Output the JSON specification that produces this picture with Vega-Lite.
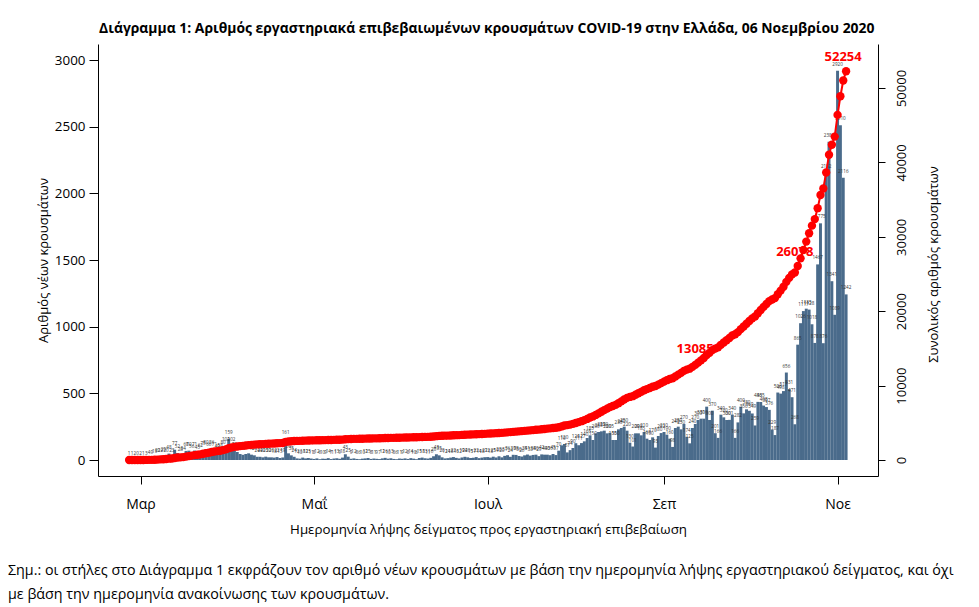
{
  "$schema": "https://vega.github.io/schema/vega-lite/v6.json",
  "background": "white",
  "padding": {"left": 8, "top": 22, "right": 10, "bottom": 4},
  "config": {
    "view": {"stroke": null},
    "font": "Open Sans",
    "axis": {"grid": false, "domainColor": "black", "tickColor": "black", "labelColor": "black", "titleColor": "black", "titleFontWeight": "normal", "labelFont": "Open Sans", "titleFont": "Open Sans"}
  },
  "title": {"text": "Διάγραμμα 1: Αριθμός εργαστηριακά επιβεβαιωμένων κρουσμάτων COVID-19 στην Ελλάδα, 06 Νοεμβρίου 2020", "fontSize": 13.9, "fontWeight": "bold", "color": "black", "anchor": "middle", "offset": 8, "dx": 6},
  "vconcat": [
    {
      "width": 780,
      "height": 432,
      "title": {"text": ["Σημ.: οι στήλες στο Διάγραμμα 1 εκφράζουν τον αριθμό νέων κρουσμάτων με βάση την ημερομηνία λήψης εργαστηριακού δείγματος, και όχι", "με βάση την ημερομηνία ανακοίνωσης των κρουσμάτων."], "orient": "bottom", "anchor": "start", "frame": "group", "align": "left", "dx": -90, "offset": 29, "fontSize": 14.3, "fontWeight": "normal", "lineHeight": 24, "color": "black"},
      "data": {"values": [
        {"d":"2020-02-26","n":1,"c":1},{"d":"2020-02-27","n":1,"c":2},{"d":"2020-02-28","n":2,"c":4},{"d":"2020-02-29","n":0,"c":4},
        {"d":"2020-03-01","n":2,"c":6},{"d":"2020-03-02","n":1,"c":7},{"d":"2020-03-03","n":3,"c":10},{"d":"2020-03-04","n":4,"c":14},{"d":"2020-03-05","n":9,"c":23},{"d":"2020-03-06","n":15,"c":38},{"d":"2020-03-07","n":20,"c":58},{"d":"2020-03-08","n":22,"c":80},{"d":"2020-03-09","n":29,"c":109},{"d":"2020-03-10","n":20,"c":129},{"d":"2020-03-11","n":48,"c":177},{"d":"2020-03-12","n":23,"c":200},{"d":"2020-03-13","n":77,"c":277},{"d":"2020-03-14","n":52,"c":329},{"d":"2020-03-15","n":28,"c":357},{"d":"2020-03-16","n":34,"c":391},{"d":"2020-03-17","n":68,"c":459},{"d":"2020-03-18","n":70,"c":529},{"d":"2020-03-19","n":56,"c":585},{"d":"2020-03-20","n":71,"c":656},{"d":"2020-03-21","n":45,"c":701},{"d":"2020-03-22","n":62,"c":763},{"d":"2020-03-23","n":75,"c":838},{"d":"2020-03-24","n":80,"c":918},{"d":"2020-03-25","n":66,"c":984},{"d":"2020-03-26","n":86,"c":1070},{"d":"2020-03-27","n":71,"c":1141},{"d":"2020-03-28","n":49,"c":1190},{"d":"2020-03-29","n":58,"c":1248},{"d":"2020-03-30","n":80,"c":1328},{"d":"2020-03-31","n":102,"c":1430},
        {"d":"2020-04-01","n":159,"c":1589},{"d":"2020-04-02","n":102,"c":1691},{"d":"2020-04-03","n":70,"c":1761},{"d":"2020-04-04","n":60,"c":1821},{"d":"2020-04-05","n":45,"c":1866},{"d":"2020-04-06","n":39,"c":1905},{"d":"2020-04-07","n":45,"c":1950},{"d":"2020-04-08","n":50,"c":2000},{"d":"2020-04-09","n":40,"c":2040},{"d":"2020-04-10","n":35,"c":2075},{"d":"2020-04-11","n":24,"c":2099},{"d":"2020-04-12","n":24,"c":2123},{"d":"2020-04-13","n":20,"c":2143},{"d":"2020-04-14","n":25,"c":2168},{"d":"2020-04-15","n":20,"c":2188},{"d":"2020-04-16","n":20,"c":2208},{"d":"2020-04-17","n":18,"c":2226},{"d":"2020-04-18","n":22,"c":2248},{"d":"2020-04-19","n":15,"c":2263},{"d":"2020-04-20","n":19,"c":2282},{"d":"2020-04-21","n":161,"c":2443},{"d":"2020-04-22","n":50,"c":2493},{"d":"2020-04-23","n":35,"c":2528},{"d":"2020-04-24","n":24,"c":2552},{"d":"2020-04-25","n":12,"c":2564},{"d":"2020-04-26","n":10,"c":2574},{"d":"2020-04-27","n":18,"c":2592},{"d":"2020-04-28","n":12,"c":2604},{"d":"2020-04-29","n":15,"c":2619},{"d":"2020-04-30","n":11,"c":2630},
        {"d":"2020-05-01","n":8,"c":2638},{"d":"2020-05-02","n":12,"c":2650},{"d":"2020-05-03","n":6,"c":2656},{"d":"2020-05-04","n":10,"c":2666},{"d":"2020-05-05","n":9,"c":2675},{"d":"2020-05-06","n":14,"c":2689},{"d":"2020-05-07","n":7,"c":2696},{"d":"2020-05-08","n":11,"c":2707},{"d":"2020-05-09","n":13,"c":2720},{"d":"2020-05-10","n":9,"c":2729},{"d":"2020-05-11","n":18,"c":2747},{"d":"2020-05-12","n":43,"c":2790},{"d":"2020-05-13","n":25,"c":2815},{"d":"2020-05-14","n":9,"c":2824},{"d":"2020-05-15","n":12,"c":2836},{"d":"2020-05-16","n":8,"c":2844},{"d":"2020-05-17","n":6,"c":2850},{"d":"2020-05-18","n":10,"c":2860},{"d":"2020-05-19","n":12,"c":2872},{"d":"2020-05-20","n":15,"c":2887},{"d":"2020-05-21","n":8,"c":2895},{"d":"2020-05-22","n":11,"c":2906},{"d":"2020-05-23","n":9,"c":2915},{"d":"2020-05-24","n":7,"c":2922},{"d":"2020-05-25","n":12,"c":2934},{"d":"2020-05-26","n":16,"c":2950},{"d":"2020-05-27","n":10,"c":2960},{"d":"2020-05-28","n":13,"c":2973},{"d":"2020-05-29","n":8,"c":2981},{"d":"2020-05-30","n":6,"c":2987},{"d":"2020-05-31","n":11,"c":2998},
        {"d":"2020-06-01","n":9,"c":3007},{"d":"2020-06-02","n":12,"c":3019},{"d":"2020-06-03","n":8,"c":3027},{"d":"2020-06-04","n":14,"c":3041},{"d":"2020-06-05","n":10,"c":3051},{"d":"2020-06-06","n":6,"c":3057},{"d":"2020-06-07","n":15,"c":3072},{"d":"2020-06-08","n":18,"c":3090},{"d":"2020-06-09","n":13,"c":3103},{"d":"2020-06-10","n":11,"c":3114},{"d":"2020-06-11","n":16,"c":3130},{"d":"2020-06-12","n":28,"c":3158},{"d":"2020-06-13","n":43,"c":3201},{"d":"2020-06-14","n":35,"c":3236},{"d":"2020-06-15","n":20,"c":3256},{"d":"2020-06-16","n":12,"c":3268},{"d":"2020-06-17","n":14,"c":3282},{"d":"2020-06-18","n":18,"c":3300},{"d":"2020-06-19","n":22,"c":3322},{"d":"2020-06-20","n":16,"c":3338},{"d":"2020-06-21","n":12,"c":3350},{"d":"2020-06-22","n":19,"c":3369},{"d":"2020-06-23","n":24,"c":3393},{"d":"2020-06-24","n":20,"c":3413},{"d":"2020-06-25","n":15,"c":3428},{"d":"2020-06-26","n":17,"c":3445},{"d":"2020-06-27","n":22,"c":3467},{"d":"2020-06-28","n":14,"c":3481},{"d":"2020-06-29","n":18,"c":3499},{"d":"2020-06-30","n":21,"c":3520},
        {"d":"2020-07-01","n":22,"c":3542},{"d":"2020-07-02","n":18,"c":3560},{"d":"2020-07-03","n":25,"c":3585},{"d":"2020-07-04","n":19,"c":3604},{"d":"2020-07-05","n":28,"c":3632},{"d":"2020-07-06","n":20,"c":3652},{"d":"2020-07-07","n":31,"c":3683},{"d":"2020-07-08","n":36,"c":3719},{"d":"2020-07-09","n":24,"c":3743},{"d":"2020-07-10","n":39,"c":3782},{"d":"2020-07-11","n":38,"c":3820},{"d":"2020-07-12","n":30,"c":3850},{"d":"2020-07-13","n":26,"c":3876},{"d":"2020-07-14","n":35,"c":3911},{"d":"2020-07-15","n":41,"c":3952},{"d":"2020-07-16","n":33,"c":3985},{"d":"2020-07-17","n":38,"c":4023},{"d":"2020-07-18","n":40,"c":4063},{"d":"2020-07-19","n":29,"c":4092},{"d":"2020-07-20","n":42,"c":4134},{"d":"2020-07-21","n":40,"c":4174},{"d":"2020-07-22","n":40,"c":4214},{"d":"2020-07-23","n":36,"c":4250},{"d":"2020-07-24","n":45,"c":4295},{"d":"2020-07-25","n":37,"c":4332},{"d":"2020-07-26","n":70,"c":4402},{"d":"2020-07-27","n":110,"c":4512},{"d":"2020-07-28","n":120,"c":4632},{"d":"2020-07-29","n":57,"c":4689},{"d":"2020-07-30","n":74,"c":4763},{"d":"2020-07-31","n":90,"c":4853},
        {"d":"2020-08-01","n":126,"c":4979},{"d":"2020-08-02","n":111,"c":5090},{"d":"2020-08-03","n":127,"c":5217},{"d":"2020-08-04","n":140,"c":5357},{"d":"2020-08-05","n":165,"c":5522},{"d":"2020-08-06","n":185,"c":5707},{"d":"2020-08-07","n":150,"c":5857},{"d":"2020-08-08","n":200,"c":6057},{"d":"2020-08-09","n":210,"c":6267},{"d":"2020-08-10","n":215,"c":6482},{"d":"2020-08-11","n":220,"c":6702},{"d":"2020-08-12","n":200,"c":6902},{"d":"2020-08-13","n":205,"c":7107},{"d":"2020-08-14","n":150,"c":7257},{"d":"2020-08-15","n":150,"c":7407},{"d":"2020-08-16","n":230,"c":7637},{"d":"2020-08-17","n":240,"c":7877},{"d":"2020-08-18","n":250,"c":8127},{"d":"2020-08-19","n":220,"c":8347},{"d":"2020-08-20","n":130,"c":8477},{"d":"2020-08-21","n":101,"c":8578},{"d":"2020-08-22","n":200,"c":8778},{"d":"2020-08-23","n":200,"c":8978},{"d":"2020-08-24","n":185,"c":9163},{"d":"2020-08-25","n":210,"c":9373},{"d":"2020-08-26","n":160,"c":9533},{"d":"2020-08-27","n":150,"c":9683},{"d":"2020-08-28","n":170,"c":9853},{"d":"2020-08-29","n":93,"c":9946},{"d":"2020-08-30","n":180,"c":10126},{"d":"2020-08-31","n":202,"c":10328},
        {"d":"2020-09-01","n":210,"c":10538},{"d":"2020-09-02","n":190,"c":10728},{"d":"2020-09-03","n":160,"c":10888},{"d":"2020-09-04","n":98,"c":10986},{"d":"2020-09-05","n":240,"c":11226},{"d":"2020-09-06","n":250,"c":11476},{"d":"2020-09-07","n":230,"c":11706},{"d":"2020-09-08","n":270,"c":11976},{"d":"2020-09-09","n":174,"c":12150},{"d":"2020-09-10","n":125,"c":12275},{"d":"2020-09-11","n":240,"c":12515},{"d":"2020-09-12","n":270,"c":12785},{"d":"2020-09-13","n":300,"c":13085,"m":1},{"d":"2020-09-14","n":310,"c":13395},{"d":"2020-09-15","n":310,"c":13705},{"d":"2020-09-16","n":400,"c":14105},{"d":"2020-09-17","n":300,"c":14405},{"d":"2020-09-18","n":370,"c":14775},{"d":"2020-09-19","n":201,"c":14976},{"d":"2020-09-20","n":166,"c":15142},{"d":"2020-09-21","n":340,"c":15482},{"d":"2020-09-22","n":320,"c":15802},{"d":"2020-09-23","n":300,"c":16102},{"d":"2020-09-24","n":301,"c":16403},{"d":"2020-09-25","n":340,"c":16743},{"d":"2020-09-26","n":166,"c":16909},{"d":"2020-09-27","n":282,"c":17191},{"d":"2020-09-28","n":400,"c":17591},{"d":"2020-09-29","n":350,"c":17941},{"d":"2020-09-30","n":380,"c":18321},
        {"d":"2020-10-01","n":369,"c":18690},{"d":"2020-10-02","n":349,"c":19039},{"d":"2020-10-03","n":259,"c":19298},{"d":"2020-10-04","n":436,"c":19734},{"d":"2020-10-05","n":435,"c":20169},{"d":"2020-10-06","n":408,"c":20577},{"d":"2020-10-07","n":397,"c":20974},{"d":"2020-10-08","n":376,"c":21350},{"d":"2020-10-09","n":229,"c":21579},{"d":"2020-10-10","n":187,"c":21766},{"d":"2020-10-11","n":506,"c":22272},{"d":"2020-10-12","n":498,"c":22770},{"d":"2020-10-13","n":517,"c":23287},{"d":"2020-10-14","n":656,"c":23943},{"d":"2020-10-15","n":531,"c":24474},{"d":"2020-10-16","n":471,"c":24945},{"d":"2020-10-17","n":268,"c":25213},{"d":"2020-10-18","n":865,"c":26078,"m":1},{"d":"2020-10-19","n":1026,"c":27104},{"d":"2020-10-20","n":1117,"c":28221},{"d":"2020-10-21","n":1135,"c":29356},{"d":"2020-10-22","n":1128,"c":30484},{"d":"2020-10-23","n":1018,"c":31502},{"d":"2020-10-24","n":878,"c":32380},{"d":"2020-10-25","n":1467,"c":33847},{"d":"2020-10-26","n":1775,"c":35622},{"d":"2020-10-27","n":876,"c":36498},{"d":"2020-10-28","n":2152,"c":38650},{"d":"2020-10-29","n":2386,"c":41036},{"d":"2020-10-30","n":1341,"c":42377},{"d":"2020-10-31","n":1089,"c":43466},
        {"d":"2020-11-01","n":2920,"c":46386},{"d":"2020-11-02","n":2510,"c":48896},{"d":"2020-11-03","n":2116,"c":51012},{"d":"2020-11-04","n":1242,"c":52254,"m":1}
      ]},
      "encoding": {
        "x": {
          "field": "d", "type": "temporal",
          "scale": {"type": "utc", "domain": [{"year": 2020, "month": 2, "date": 16, "hours": 19, "minutes": 34, "utc": true}, {"year": 2020, "month": 11, "date": 13, "hours": 11, "utc": true}]},
          "axis": {
            "values": [{"year": 2020, "month": 3, "date": 1, "utc": true}, {"year": 2020, "month": 5, "date": 1, "utc": true}, {"year": 2020, "month": 7, "date": 1, "utc": true}, {"year": 2020, "month": 9, "date": 1, "utc": true}, {"year": 2020, "month": 11, "date": 1, "utc": true}],
            "labelExpr": "['Ιαν','Φεβ','Μαρ','Απρ','Μαΐ','Ιουν','Ιουλ','Αυγ','Σεπ','Οκτ','Νοε','Δεκ'][utcmonth(datum.value)]",
            "tickSize": 8, "labelPadding": 13, "labelFontSize": 14,
            "title": "Ημερομηνία λήψης δείγματος προς εργαστηριακή επιβεβαίωση", "titleFontSize": 13.3, "titlePadding": 11
          }
        }
      },
      "layer": [
        {
          "encoding": {
            "y": {"field": "n", "type": "quantitative", "stack": null,
              "scale": {"domain": [-120, 3120], "nice": false, "zero": false},
              "axis": {"values": [0, 500, 1000, 1500, 2000, 2500, 3000], "format": "d", "title": "Αριθμός νέων κρουσμάτων", "titleFontSize": 13, "titlePadding": 4, "labelFontSize": 13.4, "tickSize": 9, "labelPadding": 4}}
          },
          "layer": [
            {"mark": {"type": "bar", "color": "#4a6b8b", "width": 2.95}, "encoding": {"y2": {"datum": 0}}},
            {"mark": {"type": "text", "fontSize": 4.6, "color": "#333333", "baseline": "bottom", "dy": -4}, "encoding": {"text": {"field": "n", "type": "quantitative"}}}
          ]
        },
        {
          "encoding": {
            "y": {"field": "c", "type": "quantitative",
              "scale": {"domain": [-2150, 55914], "nice": false, "zero": false},
              "axis": {"orient": "right", "values": [0, 10000, 20000, 30000, 40000, 50000], "format": "d", "title": "Συνολικός αριθμός κρουσμάτων", "titleFontSize": 13, "titleAngle": 270, "titleAlign": "center", "titleBaseline": "middle", "titleX": 55, "titleY": 220, "labelAngle": 270, "labelAlign": "center", "labelBaseline": "middle", "labelFontSize": 13, "tickSize": 7, "labelPadding": 16}}
          },
          "layer": [
            {"mark": {"type": "line", "color": "#ff0000", "strokeWidth": 2}},
            {"mark": {"type": "point", "filled": true, "color": "#ff0000", "size": 70, "opacity": 1}},
            {"transform": [{"filter": "datum.m == 1"}], "mark": {"type": "text", "color": "#ff0000", "fontSize": 13, "fontWeight": "bold", "dx": -3, "dy": -14}, "encoding": {"text": {"field": "c", "type": "quantitative", "format": "d"}}}
          ]
        }
      ],
      "resolve": {"scale": {"y": "independent"}}
    }
  ]
}
